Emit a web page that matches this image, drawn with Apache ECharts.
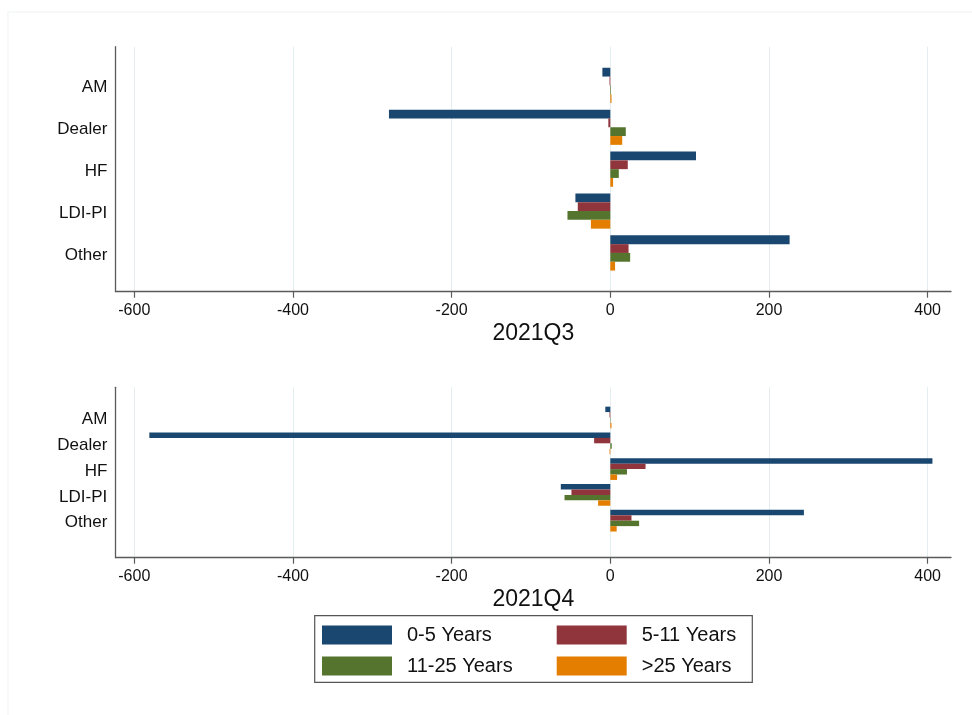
<!DOCTYPE html>
<html>
<head>
<meta charset="utf-8">
<script src="https://cdn.jsdelivr.net/npm/echarts@6/dist/echarts.min.js"></script>
<style>
  html, body { margin: 0; padding: 0; background: #ffffff; }
  #chart { width: 972px; height: 715px; }
</style>
</head>
<body>
<div id="chart"></div>
<script>
// Sectors shown on each panel (top to bottom)
const categories = ['AM', 'Dealer', 'HF', 'LDI-PI', 'Other'];

// Maturity buckets
const bucketNames = ['0-5 Years', '5-11 Years', '11-25 Years', '>25 Years'];
const bucketColors = ['#1a476f', '#90353b', '#55752f', '#e37e00'];

// Net positions, 2021Q3
const q3Years0to5 = [-10, -279, 108, -44, 226];
const q3Years5to11 = [-1, -2.5, 22, -41, 23];
const q3Years11to25 = [0.8, 19.5, 10.7, -54, 25];
const q3Years25plus = [1.5, 15, 3.5, -24.5, 6];

// Net positions, 2021Q4
const q4Years0to5 = [-6.3, -581, 406, -62.4, 244];
const q4Years5to11 = [-1, -20.4, 44.4, -49, 26.7];
const q4Years11to25 = [0.5, 1.8, 21, -57.7, 36.3];
const q4Years25plus = [1.5, -1, 8.6, -15.4, 8];

// Value axis ticks and panel titles
const xTicks = [-600, -400, -200, 0, 200, 400];
const panelTitles = ['2021Q3', '2021Q4'];

const X_MIN = -623.4;
const X_MAX = 429.4;
const FONT = "'Liberation Sans', Arial, sans-serif";
const AXIS_COLOR = '#5a5a5a';
const GRID_COLOR = '#e4edf0';

const panels = [
  { title: panelTitles[0], values: [q3Years0to5, q3Years5to11, q3Years11to25, q3Years25plus],
    frame: { top: 46.7, height: 245 }, bars: { top: 64.4, height: 209.5 } },
  { title: panelTitles[1], values: [q4Years0to5, q4Years5to11, q4Years11to25, q4Years25plus],
    frame: { top: 387.3, height: 170.4 }, bars: { top: 404.6, height: 129 } }
];

const LEFT = 115.7;
const RIGHT = 972 - 951;

const grid = [];
const xAxis = [];
const yAxis = [];
const series = [];

panels.forEach((p, i) => {
  // frame grid: axis lines, ticks, tick labels, gridlines and title
  grid.push({ left: LEFT, right: RIGHT, top: p.frame.top, height: p.frame.height });
  xAxis.push({
    type: 'value', gridIndex: 2 * i, min: X_MIN, max: X_MAX,
    name: p.title, nameLocation: 'middle', nameGap: 30,
    nameTextStyle: { fontFamily: FONT, fontSize: 23, color: '#111' },
    axisLine: { show: true, onZero: false, lineStyle: { color: AXIS_COLOR, width: 1.3 } },
    axisTick: { show: true, length: 6, customValues: xTicks, lineStyle: { color: AXIS_COLOR, width: 1.2 } },
    axisLabel: { customValues: xTicks, margin: 11, fontFamily: FONT, fontSize: 16, color: '#111' },
    splitLine: { show: true, lineStyle: { color: GRID_COLOR, width: 1 } }
  });
  yAxis.push({
    type: 'value', gridIndex: 2 * i, min: 0, max: 1,
    axisLine: { show: true, onZero: false, lineStyle: { color: AXIS_COLOR, width: 1.3 } },
    axisTick: { show: false }, axisLabel: { show: false }, splitLine: { show: false }
  });

  // bar grid: category band area
  grid.push({ left: LEFT, right: RIGHT, top: p.bars.top, height: p.bars.height });
  xAxis.push({
    type: 'value', gridIndex: 2 * i + 1, min: X_MIN, max: X_MAX, show: false,
    splitLine: { show: false }
  });
  yAxis.push({
    type: 'category', gridIndex: 2 * i + 1, data: categories, inverse: true,
    axisLine: { show: false }, axisTick: { show: false },
    axisLabel: {
      margin: 8.4, formatter: '{c|{value}}',
      rich: { c: { fontFamily: FONT, fontSize: 17, color: '#111', padding: [4, 0, 0, 0] } }
    },
    splitLine: { show: false }
  });

  p.values.forEach((vals, k) => {
    series.push({
      type: 'bar', name: bucketNames[k],
      xAxisIndex: 2 * i + 1, yAxisIndex: 2 * i + 1,
      data: vals,
      barGap: '0%', barCategoryGap: '16%',
      itemStyle: { color: bucketColors[k] },
      animation: false
    });
  });
});

const legendBase = {
  orient: 'vertical', top: 625, padding: 0,
  itemWidth: 70, itemHeight: 19, itemGap: 11,
  icon: 'rect',
  textStyle: { fontFamily: FONT, fontSize: 20, color: '#111', lineHeight: 19, padding: [0, 0, 0, 10] },
  selectedMode: false
};

const option = {
  backgroundColor: '#ffffff',
  animation: false,
  color: bucketColors,
  grid: grid,
  xAxis: xAxis,
  yAxis: yAxis,
  series: series,
  legend: [
    Object.assign({}, legendBase, { left: 322, data: [bucketNames[0], bucketNames[2]] }),
    Object.assign({}, legendBase, { left: 556.7, data: [bucketNames[1], bucketNames[3]] })
  ],
  graphic: [
    { type: 'rect', z: -10, silent: true,
      shape: { x: 8, y: 12, width: 1000, height: 800 },
      style: { fill: 'none', stroke: '#eef2f3', lineWidth: 1 } },
    { type: 'rect', z: -1, silent: true,
      shape: { x: 314.7, y: 615.7, width: 437.6, height: 66.6 },
      style: { fill: '#ffffff', stroke: '#555555', lineWidth: 1.2 } }
  ]
};

const chart = echarts.init(document.getElementById('chart'), null, { renderer: 'canvas' });
chart.setOption(option);
</script>
</body>
</html>
